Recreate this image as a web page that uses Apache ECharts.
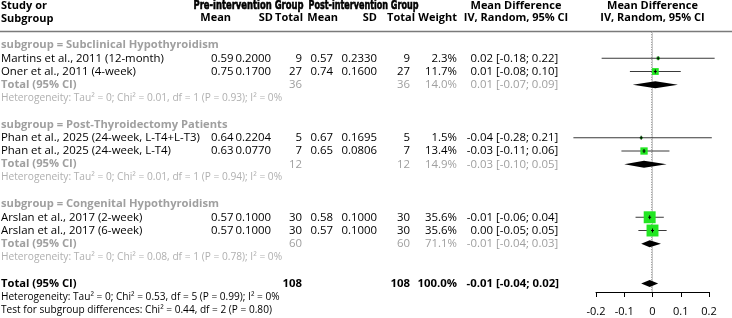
<!DOCTYPE html>
<html>
<head>
<meta charset="UTF-8">
<title>Forest plot</title>
<script src="https://cdn.jsdelivr.net/npm/echarts@6/dist/echarts.min.js"></script>
<style>
html, body { margin: 0; padding: 0; background: #fff; }
#main { width: 732px; height: 318px; }
</style>
</head>
<body>
<div id="main"></div>
<script>
// ---- data ----
var subgroups = ['subgroup = Subclinical Hypothyroidism', 'subgroup = Post-Thyroidectomy Patients', 'subgroup = Congenital Hypothyroidism'];
var studies = ['Martins et al., 2011 (12-month)', 'Oner et al., 2011 (4-week)', 'Phan et al., 2025 (24-week, L-T4+L-T3)', 'Phan et al., 2025 (24-week, L-T4)', 'Arslan et al., 2017 (2-week)', 'Arslan et al., 2017 (6-week)'];
var studyGroup = [0, 0, 1, 1, 2, 2];
var preMean = [0.59, 0.75, 0.64, 0.63, 0.57, 0.57];
var preSD = [0.2000, 0.1700, 0.2204, 0.0770, 0.1000, 0.1000];
var preN = [9, 27, 5, 7, 30, 30];
var postMean = [0.57, 0.74, 0.67, 0.65, 0.58, 0.57];
var postSD = [0.2330, 0.1600, 0.1695, 0.0806, 0.1000, 0.1000];
var postN = [9, 27, 5, 7, 30, 30];
var weights = [2.3, 11.7, 1.5, 13.4, 35.6, 35.6];
var md = [0.02, 0.01, -0.04, -0.03, -0.01, 0.00];
var mdLow = [-0.18, -0.08, -0.28, -0.11, -0.06, -0.05];
var mdHigh = [0.22, 0.10, 0.21, 0.06, 0.04, 0.05];

var subN = [36, 12, 60];
var subWeight = [14.0, 14.9, 71.1];
var subMd = [0.01, -0.03, -0.01];
var subLow = [-0.07, -0.10, -0.04];
var subHigh = [0.09, 0.05, 0.03];
var subHet = [
  'Heterogeneity: Tau\u00b2 = 0; Chi\u00b2 = 0.01, df = 1 (P = 0.93); I\u00b2 = 0%',
  'Heterogeneity: Tau\u00b2 = 0; Chi\u00b2 = 0.01, df = 1 (P = 0.94); I\u00b2 = 0%',
  'Heterogeneity: Tau\u00b2 = 0; Chi\u00b2 = 0.08, df = 1 (P = 0.78); I\u00b2 = 0%'
];

var totalN = [108, 108];
var totalWeight = [100.0];
var totalMd = [-0.01];
var totalLow = [-0.04];
var totalHigh = [0.02];
var totalNotes = [
  'Heterogeneity: Tau\u00b2 = 0; Chi\u00b2 = 0.53, df = 5 (P = 0.99); I\u00b2 = 0%',
  'Test for subgroup differences: Chi\u00b2 = 0.44, df = 2 (P = 0.80)'
];

var xTickLabels = ['-0.2', '-0.1', '0', '0.1', '0.2'];

// ---- layout ----
var F = '"Open Sans", "Noto Sans", sans-serif';
var NARROW = '"DejaVu Sans", sans-serif';
var GREY = '#9f9f9f';
var LGREY = '#b0b0b0';
var FS = 11.4;
var col = { pm: 233.5, psd: 271, pn: 302, qm: 333, qsd: 377, qn: 410, w: 457, est: 493, ci: 496 };

function ciText(lo, hi) { return '[' + lo.toFixed(2) + '; ' + hi.toFixed(2) + ']'; }
function cell(x, text, align, color, weight, size) {
  return { x: x, text: text, align: align, color: color, weight: weight || 'normal', size: size || FS };
}

var tableRows = [];
var studyRow = [];
var diamondRows = [];
subgroups.forEach(function (name, g) {
  var base = 1 + 6 * g;
  tableRows.push({ row: base, cells: [cell(1, name, 'left', GREY, 'bold', 11.2)] });
  var k = 0;
  studies.forEach(function (s, i) {
    if (studyGroup[i] !== g) return;
    var r = base + 1 + k; k++;
    studyRow[i] = r;
    tableRows.push({ row: r, cells: [
      cell(1, s, 'left', '#000'),
      cell(col.pm, preMean[i].toFixed(2), 'right', '#000'),
      cell(col.psd, preSD[i].toFixed(4), 'right', '#000'),
      cell(col.pn, String(preN[i]), 'right', '#000'),
      cell(col.qm, postMean[i].toFixed(2), 'right', '#000'),
      cell(col.qsd, postSD[i].toFixed(4), 'right', '#000'),
      cell(col.qn, String(postN[i]), 'right', '#000'),
      cell(col.w, weights[i].toFixed(1) + '%', 'right', '#000'),
      cell(col.est, md[i].toFixed(2), 'right', '#000'),
      cell(col.ci, ciText(mdLow[i], mdHigh[i]), 'left', '#000')
    ] });
  });
  tableRows.push({ row: base + 3, cells: [
    cell(1, 'Total (95% CI)', 'left', GREY, 'bold', 11.2),
    cell(col.pn, String(subN[g]), 'right', GREY),
    cell(col.qn, String(subN[g]), 'right', GREY),
    cell(col.w, subWeight[g].toFixed(1) + '%', 'right', GREY),
    cell(col.est, subMd[g].toFixed(2), 'right', GREY),
    cell(col.ci, ciText(subLow[g], subHigh[g]), 'left', GREY)
  ] });
  diamondRows.push([subMd[g], base + 3, subLow[g], subHigh[g]]);
  tableRows.push({ row: base + 4, cells: [cell(1, subHet[g], 'left', LGREY, 'normal', 10.2)] });
});
tableRows.push({ row: 19, cells: [
  cell(1, 'Total (95% CI)', 'left', '#000', 'bold', 11.2),
  cell(col.pn, String(totalN[0]), 'right', '#000', 'bold'),
  cell(col.qn, String(totalN[1]), 'right', '#000', 'bold'),
  cell(col.w, totalWeight[0].toFixed(1) + '%', 'right', '#000', 'bold'),
  cell(col.est, totalMd[0].toFixed(2), 'right', '#000', 'bold'),
  cell(col.ci, ciText(totalLow[0], totalHigh[0]), 'left', '#000', 'bold')
] });
diamondRows.push([totalMd[0], 19, totalLow[0], totalHigh[0]]);
tableRows.push({ row: 20, cells: [cell(1, totalNotes[0], 'left', '#000', 'normal', 10.1)] });
tableRows.push({ row: 21, cells: [cell(1, totalNotes[1], 'left', '#000', 'normal', 10.1)] });

function headText(x, y, text, align, font) {
  return { type: 'text', x: x, y: y, style: { text: text, align: align, verticalAlign: 'middle', fill: '#000', font: font } };
}
// condensed group headers: squeeze a heavy bold face to the width seen in the picture
var measure = document.createElement('canvas').getContext('2d');
function narrowText(cx, y, text, targetW) {
  var font = 'bold 12px ' + NARROW;
  measure.font = font;
  var w = measure.measureText(text).width;
  return { type: 'text', x: cx, y: y, scaleX: targetW / w, style: {
    text: text, align: 'center', verticalAlign: 'middle', fill: '#000', font: font,
    stroke: '#000', lineWidth: 0.6 } };
}
var HB = 'bold 11px ' + F;

var chart = echarts.init(document.getElementById('main'));

var option = {
  animation: false,
  grid: { left: 596, width: 113, top: 31.75, height: 260.25 },
  xAxis: {
    type: 'value', min: -0.2, max: 0.2, interval: 0.1,
    axisLine: { show: true, onZero: false, lineStyle: { color: '#000', width: 1 } },
    axisTick: { show: true, length: 5, lineStyle: { color: '#000' } },
    axisLabel: { color: '#000', fontSize: 11, fontFamily: F, margin: 14,
      formatter: function (v, i) { return xTickLabels[i]; } },
    splitLine: { show: false }
  },
  yAxis: { type: 'value', min: 0, max: 19.64, inverse: true, show: false },
  graphic: [
    headText(1, 6, 'Study or', 'left', HB),
    headText(1, 18.5, 'Subgroup', 'left', HB),
    narrowText(248.5, 5.5, 'Pre-intervention Group', 110),
    narrowText(363.5, 5.5, 'Post-intervention Group', 110),
    headText(231, 18, 'Mean', 'right', HB),
    headText(273, 18, 'SD', 'right', HB),
    headText(303, 18, 'Total', 'right', HB),
    headText(338, 18, 'Mean', 'right', HB),
    headText(377, 18, 'SD', 'right', HB),
    headText(415, 18, 'Total', 'right', HB),
    headText(457, 18, 'Weight', 'right', HB),
    headText(516, 6, 'Mean Difference', 'center', HB),
    headText(516, 18, 'IV, Random, 95% CI', 'center', HB),
    headText(652.5, 6, 'Mean Difference', 'center', HB),
    headText(652.5, 18, 'IV, Random, 95% CI', 'center', HB),
    { type: 'line', shape: { x1: 0, y1: 31.5, x2: 732, y2: 31.5 }, style: { stroke: '#7a7a7a', lineWidth: 1.5 } }
  ],
  series: [
    {
      name: 'table', type: 'custom', clip: false, silent: true,
      data: tableRows.map(function (r) { return [0, r.row]; }),
      renderItem: function (params, api) {
        var r = tableRows[params.dataIndex];
        var y = api.coord([0, api.value(1)])[1];
        return {
          type: 'group',
          children: r.cells.map(function (c) {
            return { type: 'text', x: c.x, y: y, style: {
              text: c.text, align: c.align, verticalAlign: 'middle', fill: c.color,
              font: c.weight + ' ' + c.size + 'px ' + F } };
          })
        };
      }
    },
    {
      name: 'null', type: 'custom', clip: false, silent: true,
      data: [[0, 0]],
      renderItem: function (params, api) {
        var a = api.coord([0, 0]);
        var b = api.coord([0, 19.64]);
        return { type: 'group', children: [
          { type: 'line', shape: { x1: a[0], y1: a[1], x2: b[0], y2: b[1] }, style: { stroke: '#c8c8c8', lineWidth: 1 } },
          { type: 'line', shape: { x1: a[0] - 1, y1: a[1], x2: a[0] - 1, y2: b[1] }, style: { stroke: '#8a8a8a', lineWidth: 1, lineDash: [1, 1.5] } }
        ] };
      }
    },
    {
      name: 'studies', type: 'custom', clip: false, silent: true,
      data: md.map(function (m, i) { return [m, studyRow[i], mdLow[i], mdHigh[i], weights[i]]; }),
      renderItem: function (params, api) {
        var p = api.coord([api.value(0), api.value(1)]);
        var a = api.coord([api.value(2), api.value(1)]);
        var b = api.coord([api.value(3), api.value(1)]);
        var s = 2 * Math.sqrt(api.value(4));
        return { type: 'group', children: [
          { type: 'line', shape: { x1: a[0], y1: p[1], x2: b[0], y2: p[1] }, style: { stroke: '#3a3a3a', lineWidth: 1 } },
          { type: 'rect', shape: { x: p[0] - s / 2, y: p[1] - s / 2, width: s, height: s }, style: { fill: '#22e622' } },
          { type: 'line', shape: { x1: p[0], y1: p[1] - 2, x2: p[0], y2: p[1] + 2 }, style: { stroke: '#000', lineWidth: 1 } },
          { type: 'line', shape: { x1: p[0] - 1.5, y1: p[1], x2: p[0] + 1.5, y2: p[1] }, style: { stroke: '#000', lineWidth: 1 } }
        ] };
      }
    },
    {
      name: 'pooled', type: 'custom', clip: false, silent: true,
      data: diamondRows,
      renderItem: function (params, api) {
        var p = api.coord([api.value(0), api.value(1)]);
        var a = api.coord([api.value(2), api.value(1)]);
        var b = api.coord([api.value(3), api.value(1)]);
        var h = 3.5;
        return { type: 'polygon', shape: { points: [[a[0], p[1]], [p[0], p[1] - h], [b[0], p[1]], [p[0], p[1] + h]] }, style: { fill: '#000' } };
      }
    }
  ]
};

chart.setOption(option);
</script>
</body>
</html>
